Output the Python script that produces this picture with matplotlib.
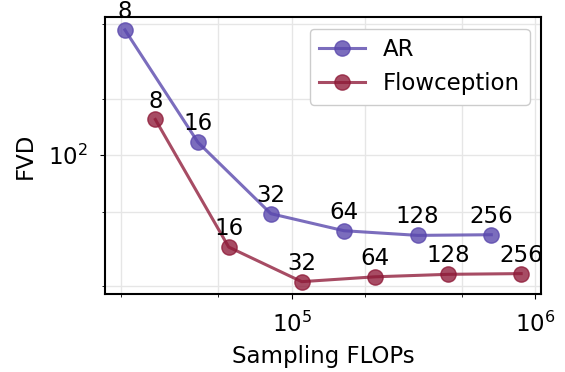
import numpy as np
import matplotlib
matplotlib.use('Agg')
import matplotlib.pyplot as plt
from matplotlib.ticker import LogLocator, NullFormatter

# data
ar_flops = [2.07e4, 4.13e4, 8.22e4, 1.64e5, 3.29e5, 6.6e5]
ar_fvd = [465, 117, 48.8, 39.6, 37.4, 37.7]
ar_steps = ['8', '16', '32', '64', '128', '256']

fc_flops = [2.76e4, 5.52e4, 1.10e5, 2.2e5, 4.4e5, 8.75e5]
fc_fvd = [155, 32.4, 21.2, 22.5, 23.2, 23.4]
fc_steps = ['8', '16', '32', '64', '128', '256']

plt.rcParams['font.size'] = 16.5

fig = plt.figure(figsize=(5.65, 3.72), dpi=100)
ax = fig.add_axes([0.186, 0.209, 0.7715, 0.7445])

ax.plot(ar_flops, ar_fvd, '-o', color='#5a48ad', alpha=0.8, lw=2.2, ms=11, label='AR')
ax.plot(fc_flops, fc_fvd, '-o', color='#8e1a38', alpha=0.78, lw=2.2, ms=11, label='Flowception')

for x, y, s in zip(ar_flops, ar_fvd, ar_steps):
    ax.annotate(s, (x, y), xytext=(0, 5), textcoords='offset points',
                ha='center', va='bottom')
for x, y, s in zip(fc_flops, fc_fvd, fc_steps):
    ax.annotate(s, (x, y), xytext=(0, 5), textcoords='offset points',
                ha='center', va='bottom')

ax.set_xscale('log')
ax.set_yscale('log')
for axis in (ax.xaxis, ax.yaxis):
    axis.set_minor_locator(LogLocator(base=10, subs=(2, 5)))
    axis.set_minor_formatter(NullFormatter())
ax.tick_params(which='major', pad=9)

ax.grid(True, which='both', color='#e6e6e6', lw=1)
ax.set_axisbelow(True)
for sp in ax.spines.values():
    sp.set_linewidth(1.5)

ax.set_xlabel('Sampling FLOPs', labelpad=6)
ax.set_ylabel('FVD', labelpad=8)
ax.legend(loc='upper right', framealpha=1, edgecolor='#cccccc')

fig.savefig('out.png', dpi=100)
